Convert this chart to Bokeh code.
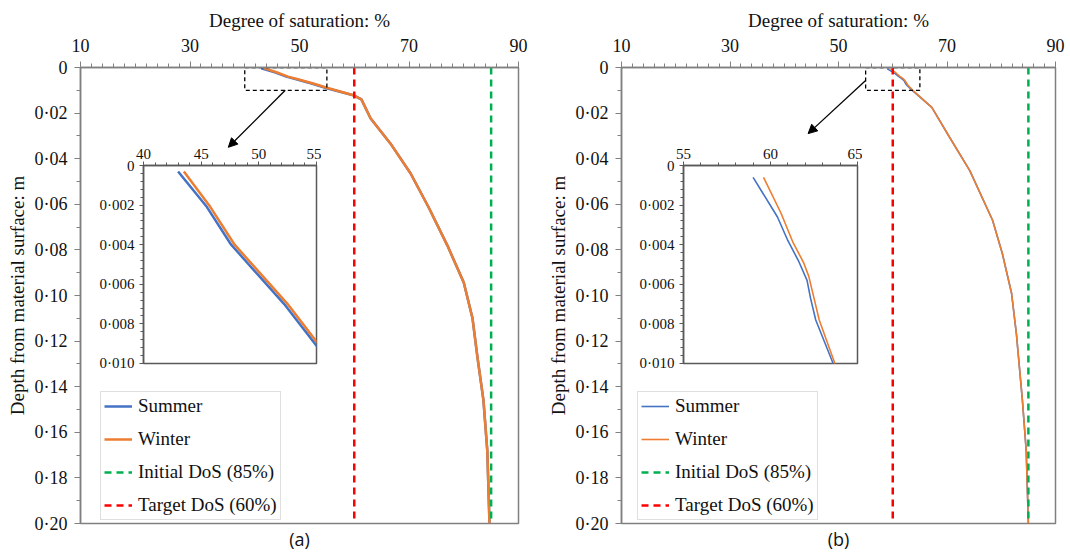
from bokeh.plotting import figure
from bokeh.models import (Range1d, FixedTicker, CustomJSTickFormatter, Legend, LegendItem,
                          Arrow, NormalHead, Title, GridBox)
from bokeh.embed import file_html
from bokeh.resources import INLINE

SERIF = "Liberation Serif"

# ---------------- data ----------------
dos_ticks = [10, 30, 50, 70, 90]
dos_minor = list(range(10, 91, 2))
depth_ticks = [0, 0.02, 0.04, 0.06, 0.08, 0.10, 0.12, 0.14, 0.16, 0.18, 0.20]
depth_minor = [i * 0.01 for i in range(21)]
inset_depth_ticks = [0, 0.002, 0.004, 0.006, 0.008, 0.010]
inset_depth_minor = [i * 0.0004 for i in range(26)]
inset_a_ticks = [40, 45, 50, 55]
inset_b_ticks = [55, 60, 65]
INSET_A_DOS = (40, 55)
INSET_B_DOS = (55, 65)
INSET_DEPTH = (0, 0.010)
DOS_RANGE = (10, 90)
DEPTH_RANGE = (0, 0.20)
INITIAL_DOS = 85
TARGET_DOS = 60

# panel (a)
a_summer_depth = [0.0003, 0.0021, 0.004, 0.0055, 0.007, 0.0091, 0.0123, 0.014, 0.0224, 0.0333,
                  0.0465, 0.0614, 0.078, 0.0943, 0.110, 0.127, 0.146, 0.168, 0.20]
a_summer_dos = [43.0, 45.5, 47.6, 49.9, 52.2, 55.0, 60.0, 61.3, 63.0, 66.6,
                70.3, 73.6, 77.0, 80.0, 81.6, 82.5, 83.6, 84.3, 84.7]
a_winter_depth = [0.0003, 0.0021, 0.004, 0.0055, 0.007, 0.0089, 0.0123, 0.014, 0.0224, 0.0333,
                  0.0465, 0.0614, 0.078, 0.0943, 0.110, 0.127, 0.146, 0.168, 0.20]
a_winter_dos = [43.5, 45.8, 47.9, 50.2, 52.5, 55.0, 60.0, 61.3, 63.0, 66.6,
                70.3, 73.6, 77.0, 80.0, 81.6, 82.5, 83.6, 84.3, 84.7]

# panel (b)
b_summer_depth = [0.0006, 0.0026, 0.0038, 0.0048, 0.0058, 0.0067, 0.0078, 0.010, 0.0175, 0.0307,
                  0.0452, 0.067, 0.0816, 0.099, 0.117, 0.146, 0.168, 0.20]
b_summer_dos = [59.0, 60.4, 61.0, 61.6, 62.1, 62.3, 62.6, 63.6, 67.2, 70.5,
                74.2, 78.4, 80.2, 81.9, 82.8, 83.9, 84.6, 85.0]
b_winter_depth = [0.0006, 0.0024, 0.0039, 0.0049, 0.0056, 0.0067, 0.0078, 0.010, 0.0175, 0.0307,
                  0.0452, 0.067, 0.0816, 0.099, 0.117, 0.146, 0.168, 0.20]
b_winter_dos = [59.6, 60.6, 61.3, 61.9, 62.2, 62.5, 62.8, 63.7, 67.2, 70.5,
                74.2, 78.4, 80.2, 81.9, 82.8, 83.9, 84.6, 85.0]

BLUE = "#4472C4"
ORANGE = "#ED7D31"
GREEN = "#00B050"
RED = "#FF0000"
AXIS = "#808080"

depth_fmt = CustomJSTickFormatter(code="return tick == 0 ? '0' : tick.toFixed(2).replace('.', '\u00b7');")
inset_fmt = CustomJSTickFormatter(code="return tick == 0 ? '0' : tick.toFixed(3).replace('.', '\u00b7');")


def style_axes(p, font_size, tick_out, minor_out, color):
    for ax in (p.xaxis[0], p.yaxis[0]):
        ax.axis_line_color = color
        ax.axis_line_width = 1.5
        ax.major_tick_line_color = color
        ax.minor_tick_line_color = color
        ax.major_tick_out = tick_out
        ax.major_tick_in = 0
        ax.minor_tick_out = minor_out
        ax.minor_tick_in = 0
        ax.major_label_text_font = SERIF
        ax.major_label_text_font_size = font_size
        ax.major_label_text_color = "#111111"
        ax.axis_label_text_font = SERIF
        ax.axis_label_text_font_size = "19px"
        ax.axis_label_text_font_style = "normal"
        ax.axis_label_text_color = "#111111"


def main_panel(width, bl, br, summer, winter, lw, inset_dos, arrow, letter, legend_x):
    p = figure(width=width, height=552, x_range=Range1d(*DOS_RANGE),
               y_range=Range1d(DEPTH_RANGE[1], DEPTH_RANGE[0]), x_axis_location="above",
               output_backend="svg", toolbar_location=None,
               min_border_left=bl, min_border_right=br, min_border_top=67, min_border_bottom=29)
    p.xgrid.visible = False
    p.ygrid.visible = False
    p.outline_line_color = AXIS
    p.outline_line_width = 1.5
    p.xaxis.ticker = FixedTicker(ticks=dos_ticks, minor_ticks=dos_minor)
    p.yaxis.ticker = FixedTicker(ticks=depth_ticks, minor_ticks=depth_minor)
    p.yaxis.formatter = depth_fmt
    p.xaxis.axis_label = "Degree of saturation: %"
    p.yaxis.axis_label = "Depth from material surface: m"
    style_axes(p, "18px", 6, 4, AXIS)
    p.xaxis.major_label_standoff = 10
    p.xaxis.axis_label_standoff = 5
    p.yaxis.major_label_standoff = 7
    p.yaxis.axis_label_standoff = 4

    r_s = p.line(summer[0], summer[1], line_color=BLUE, line_width=lw)
    r_w = p.line(winter[0], winter[1], line_color=ORANGE, line_width=lw)
    r_i = p.line([INITIAL_DOS, INITIAL_DOS], list(DEPTH_RANGE), line_color=GREEN,
                 line_width=2.5, line_dash="7 5")
    r_t = p.line([TARGET_DOS, TARGET_DOS], list(DEPTH_RANGE), line_color=RED,
                 line_width=2.5, line_dash="7 5")

    # zoom box
    p.quad(left=inset_dos[0], right=inset_dos[1], top=INSET_DEPTH[0], bottom=INSET_DEPTH[1],
           fill_color=None, line_color="black", line_width=1.3, line_dash="4 3")
    p.add_layout(Arrow(x_start=arrow[0], y_start=arrow[1], x_end=arrow[2], y_end=arrow[3],
                       line_color="black", line_width=1.3,
                       end=NormalHead(size=9, fill_color="black", line_color="black")))

    legend = Legend(items=[LegendItem(label="Summer", renderers=[r_s]),
                           LegendItem(label="Winter", renderers=[r_w]),
                           LegendItem(label="Initial DoS (85%)", renderers=[r_i]),
                           LegendItem(label="Target DoS (60%)", renderers=[r_t])],
                    location=(legend_x, 3), margin=0, padding=3, spacing=11,
                    label_height=22, glyph_height=22, glyph_width=28, label_standoff=6,
                    label_text_font=SERIF, label_text_font_size="19px",
                    label_text_color="#111111",
                    border_line_color="#BFBFBF", border_line_width=1)
    p.add_layout(legend, "center")
    p.add_layout(Title(text=letter, align="center", text_font="Open Sans",
                       text_font_size="18px", text_font_style="normal",
                       text_color="#111111", standoff=2), "below")
    return p


def inset_panel(width, bl, dos_range, ticks, summer, winter, lw):
    q = figure(width=width, height=229, x_range=Range1d(*dos_range),
               y_range=Range1d(INSET_DEPTH[1], INSET_DEPTH[0]), x_axis_location="above",
               output_backend="svg", toolbar_location=None,
               min_border_left=bl, min_border_right=5, min_border_top=24, min_border_bottom=7,
               border_fill_color=None, background_fill_color="white")
    q.xgrid.visible = False
    q.ygrid.visible = False
    q.outline_line_color = "#595959"
    q.outline_line_width = 1.5
    q.xaxis.ticker = FixedTicker(ticks=ticks, minor_ticks=list(range(dos_range[0], dos_range[1] + 1)))
    q.yaxis.ticker = FixedTicker(ticks=inset_depth_ticks, minor_ticks=inset_depth_minor)
    q.yaxis.formatter = inset_fmt
    style_axes(q, "15px", 4, 3, "#595959")
    q.xaxis.major_label_standoff = 3
    q.yaxis.major_label_standoff = 5
    q.line(summer[0], summer[1], line_color=BLUE, line_width=lw)
    q.line(winter[0], winter[1], line_color=ORANGE, line_width=lw)
    return q


pa = main_panel(543, 80, 25, (a_summer_dos, a_summer_depth), (a_winter_dos, a_winter_depth),
                2.5, INSET_A_DOS, (47.4, 0.010, 37.0, 0.035), "(a)", 20)
pb = main_panel(525, 78, 13, (b_summer_dos, b_summer_depth), (b_winter_dos, b_winter_depth),
                1.6, INSET_B_DOS, (55.0, 0.0057, 44.4, 0.029), "(b)", 16)
ia = inset_panel(226, 48, INSET_A_DOS, inset_a_ticks, (a_summer_dos, a_summer_depth),
                 (a_winter_dos, a_winter_depth), 2.5)
ib = inset_panel(234, 55, INSET_B_DOS, inset_b_ticks, (b_summer_dos, b_summer_depth),
                 (b_winter_dos, b_winter_depth), 1.6)

grid = GridBox(children=[(pa, 0, 0, 3, 3), (ia, 1, 1, 1, 1), (pb, 0, 3, 3, 3), (ib, 1, 4, 1, 1)],
               rows=["141px", "229px", "182px"],
               cols=["95px", "226px", "222px", "85px", "234px", "206px"], spacing=0)

open("out.html", "w").write(file_html(grid, INLINE))
